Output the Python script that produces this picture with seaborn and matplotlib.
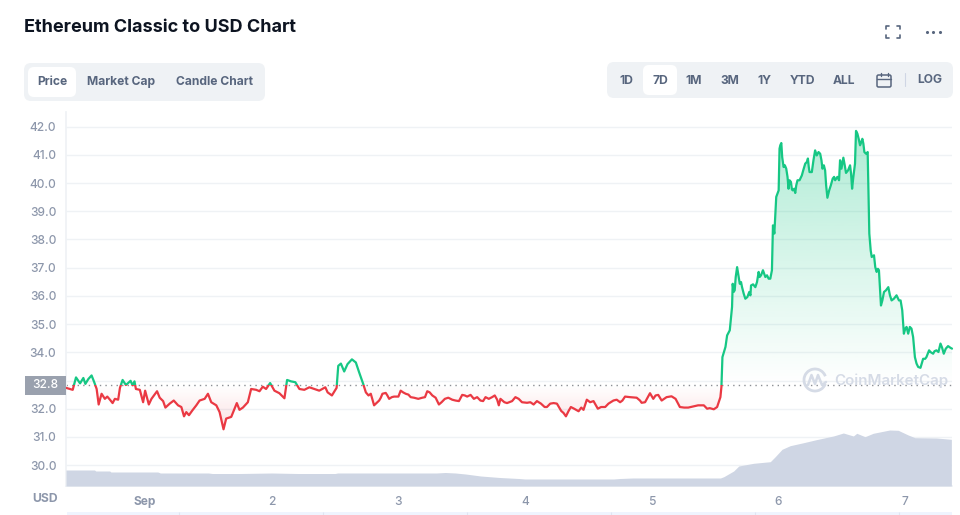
"""Ethereum Classic to USD chart, 7 day view."""
import matplotlib
matplotlib.use("Agg")
import matplotlib.pyplot as plt
from matplotlib.colors import to_rgb
from matplotlib.patches import Arc, FancyBboxPatch, Rectangle
import numpy as np
import pandas as pd
import seaborn as sns

DAYS = [0.375, 0.428, 0.454, 0.486, 0.512, 0.528, 0.551, 0.577, 0.598, 0.617, 0.633, 0.656, 0.682, 0.701,
        0.722, 0.743, 0.761, 0.787, 0.801, 0.822, 0.848, 0.885, 0.900, 0.916, 0.927, 0.958, 0.984, 1.000,
        1.029, 1.050, 1.094, 1.115, 1.142, 1.160, 1.194, 1.226, 1.260, 1.286, 1.307, 1.325, 1.346, 1.373,
        1.404, 1.430, 1.470, 1.496, 1.522, 1.562, 1.588, 1.619, 1.640, 1.680, 1.724, 1.745, 1.772, 1.811,
        1.837, 1.877, 1.903, 1.929, 1.955, 1.987, 2.021, 2.060, 2.100, 2.121, 2.152, 2.186, 2.218, 2.257,
        2.297, 2.336, 2.375, 2.423, 2.441, 2.475, 2.512, 2.525, 2.546, 2.572, 2.598, 2.633, 2.664, 2.690,
        2.722, 2.743, 2.764, 2.782, 2.808, 2.848, 2.874, 2.900, 2.927, 2.966, 3.000, 3.018, 3.058, 3.097,
        3.123, 3.189, 3.228, 3.268, 3.320, 3.367, 3.425, 3.478, 3.504, 3.570, 3.596, 3.648, 3.688, 3.740,
        3.780, 3.793, 3.806, 3.837, 3.898, 3.924, 3.976, 4.016, 4.068, 4.094, 4.155, 4.199, 4.252, 4.286,
        4.323, 4.362, 4.423, 4.462, 4.488, 4.514, 4.541, 4.575, 4.633, 4.659, 4.698, 4.751, 4.790, 4.882,
        4.921, 4.948, 4.987, 5.013, 5.052, 5.079, 5.157, 5.189, 5.223, 5.289, 5.367, 5.412, 5.438, 5.459,
        5.491, 5.517, 5.543, 5.551, 5.559, 5.583, 5.596, 5.617, 5.635, 5.640, 5.656, 5.675, 5.696, 5.714,
        5.740, 5.780, 5.785, 5.819, 5.845, 5.864, 5.879, 5.898, 5.924, 5.950, 5.958, 5.969, 5.984, 6.003,
        6.010, 6.024, 6.042, 6.063, 6.081, 6.100, 6.115, 6.134, 6.152, 6.186, 6.213, 6.234, 6.247, 6.265,
        6.291, 6.331, 6.349, 6.370, 6.388, 6.415, 6.430, 6.449, 6.467, 6.480, 6.488, 6.514, 6.535, 6.567,
        6.583, 6.606, 6.614, 6.635, 6.646, 6.664, 6.680, 6.706, 6.719, 6.738, 6.756, 6.777, 6.795, 6.811,
        6.835, 6.869, 6.895, 6.934, 6.953, 6.979, 6.992, 7.013, 7.026, 7.052, 7.065, 7.079, 7.105, 7.123,
        7.144, 7.170, 7.191, 7.223, 7.249, 7.281, 7.307, 7.341, 7.372]

PRICE = [32.74, 32.67, 33.11, 32.90, 33.09, 32.88, 33.05, 33.18, 32.94, 32.70, 32.15, 32.53, 32.35, 32.43,
         32.32, 32.20, 32.35, 32.32, 32.74, 33.02, 32.84, 32.99, 32.83, 32.97, 32.70, 32.67, 32.23, 32.64,
         32.15, 32.35, 32.62, 32.39, 32.27, 32.04, 32.18, 32.29, 32.12, 32.06, 31.73, 31.88, 31.77, 31.94,
         32.12, 32.29, 32.35, 32.53, 32.23, 32.12, 31.88, 31.27, 31.65, 31.71, 32.20, 31.96, 32.04, 32.23,
         32.70, 32.67, 32.62, 32.78, 32.70, 32.91, 32.64, 32.55, 32.37, 33.02, 32.97, 32.94, 32.70, 32.67,
         32.76, 32.70, 32.64, 32.76, 32.58, 32.47, 32.74, 33.52, 33.60, 33.32, 33.58, 33.75, 33.64, 33.29,
         32.88, 32.58, 32.47, 32.53, 32.12, 32.29, 32.53, 32.56, 32.35, 32.43, 32.43, 32.64, 32.53, 32.41,
         32.39, 32.39, 32.62, 32.47, 32.15, 32.35, 32.32, 32.27, 32.49, 32.49, 32.35, 32.29, 32.41, 32.41,
         32.32, 32.12, 32.35, 32.23, 32.27, 32.41, 32.23, 32.21, 32.15, 32.27, 32.06, 32.18, 32.18, 31.92,
         31.73, 32.06, 31.91, 31.96, 32.32, 32.23, 32.27, 32.00, 32.06, 32.18, 32.29, 32.23, 32.43, 32.39,
         32.21, 32.23, 32.55, 32.35, 32.49, 32.29, 32.44, 32.35, 32.06, 32.04, 32.12, 32.12, 32.00, 32.02,
         31.98, 32.06, 32.41, 32.77, 33.83, 34.19, 34.60, 34.78, 35.61, 36.43, 36.20, 37.02, 36.43, 36.31,
         35.90, 36.02, 36.37, 36.31, 36.85, 36.73, 36.91, 36.67, 36.61, 36.91, 38.50, 38.21, 39.51, 39.74,
         41.22, 41.42, 40.57, 40.51, 39.80, 40.04, 39.74, 39.65, 40.10, 40.27, 40.69, 40.87, 40.39, 40.39,
         41.16, 41.04, 40.51, 40.45, 39.48, 39.92, 40.16, 40.10, 40.22, 40.10, 40.81, 40.90, 40.36, 40.63,
         39.80, 40.69, 41.85, 41.57, 41.34, 41.57, 41.10, 41.10, 38.21, 37.38, 37.44, 36.85, 36.91, 35.66,
         36.14, 36.31, 35.84, 36.02, 35.84, 35.49, 34.66, 34.90, 34.66, 34.84, 34.54, 33.83, 33.48, 33.45,
         33.77, 33.83, 34.07, 33.95, 34.07, 34.31, 33.95, 34.22, 34.13]

# second pass over the picture, the smaller wiggles between the points above
DETAIL_DAYS = [2.822, 2.861, 2.913, 2.948, 3.037, 3.079, 3.157, 3.210, 3.247, 3.294, 3.341, 3.394, 3.451,
               3.525, 3.543, 3.622, 3.669, 3.714, 3.761, 3.858, 3.950, 4.042, 4.126, 4.173, 4.226, 4.304,
               4.344, 4.388, 4.444, 4.601, 4.724, 4.769, 4.829, 4.908, 5.031, 5.118, 5.257, 5.328,
               5.648, 5.664, 5.685, 5.706, 5.727, 5.756, 5.771, 5.801, 5.832, 5.853, 5.911, 5.937,
               6.016, 6.031, 6.052, 6.073, 6.089, 6.108, 6.126, 6.142, 6.168, 6.199, 6.226, 6.241, 6.278,
               6.304, 6.318, 6.341, 6.360, 6.378, 6.402, 6.441, 6.499, 6.525, 6.551, 6.575, 6.593, 6.625,
               6.656, 6.672, 6.693, 6.730, 6.766, 6.787, 6.803, 6.822, 6.851, 6.882, 6.913, 6.966, 7.003,
               7.039, 7.092, 7.160, 7.202, 7.234, 7.265, 7.294, 7.323, 7.360]
DETAIL_PRICE = [32.18, 32.39, 32.47, 32.41, 32.58, 32.50, 32.35, 32.41, 32.58, 32.39, 32.23, 32.39, 32.29,
                32.47, 32.43, 32.41, 32.27, 32.35, 32.47, 32.20, 32.35, 32.23, 32.18, 32.06, 32.20, 31.85,
                31.92, 32.00, 32.04, 32.06, 32.32, 32.29, 32.41, 32.29, 32.47, 32.41, 32.04, 32.08,
                36.14, 36.67, 36.73, 36.49, 36.08, 35.96, 36.14, 36.41, 36.49, 36.67, 36.73, 36.61,
                41.34, 40.92, 40.63, 40.22, 40.10, 39.77, 39.80, 39.92, 40.10, 40.48, 40.75, 40.57, 40.81,
                40.98, 41.10, 40.81, 40.63, 39.92, 39.74, 40.22, 40.51, 40.63, 40.45, 40.33, 40.22, 41.75,
                41.46, 41.40, 41.04, 37.61, 37.02, 36.96, 36.31, 35.84, 36.20, 36.02, 35.90, 35.84, 34.84,
                34.90, 33.60, 33.77, 34.01, 34.04, 34.01, 34.16, 34.13, 34.16]

VOLUME_DAYS = [0.375, 0.60, 0.61, 0.72, 0.73, 1.10, 1.12, 1.50, 1.53, 1.75, 2.00, 2.20, 2.50, 2.52, 3.30,
               3.37, 3.45, 3.53, 3.65, 3.80, 3.95, 4.00, 4.70, 4.75, 4.85, 5.40, 5.543, 5.57, 5.648, 5.688,
               5.806, 5.937, 5.976, 6.03, 6.094, 6.20, 6.30, 6.436, 6.514, 6.593, 6.62, 6.685, 6.75, 6.88,
               6.947, 7.026, 7.079, 7.249, 7.367]
VOLUME = [16, 16, 15, 15, 14, 14, 13, 13, 12.5, 12.5, 13, 12.5, 12.5, 13, 13,
          13.5, 13, 12, 10, 8.5, 7.5, 7, 7, 7.5, 8, 8, 8, 9.3, 15, 20,
          22.7, 24.3, 29.3, 36.7, 40.3, 43.3, 46.3, 50, 53, 50, 52.7, 49.3, 52.7, 56,
          55.7, 51, 48.3, 48, 46.7]

PRICE_TICKS = [30, 31, 32, 33, 34, 35, 36, 37, 38, 39, 40, 41, 42]
PRICE_LABELS = ["30.0", "31.0", "32.0", "", "34.0", "35.0", "36.0", "37.0", "38.0", "39.0", "40.0", "41.0", "42.0"]
DAY_TICKS = [1, 2, 3, 4, 5, 6, 7]
DAY_LABELS = ["Sep", "2", "3", "4", "5", "6", "7"]
OPEN_PRICE = 32.83

LEFT_TABS = ["Price", "Market Cap", "Candle Chart"]
LEFT_TAB_X = [52, 121.5, 214]
RANGE_TABS = ["1D", "7D", "1M", "3M", "1Y", "YTD", "ALL"]
RANGE_TAB_X = [626, 660, 694, 730, 764, 802, 844]
NAVIGATOR_X = [179, 323, 467, 611, 755, 899]

GREEN = "#16c784"
RED = "#ea3943"
GRID = "#eff2f5"
SLATE = "#58667e"
MUTED = "#8d97ab"
FONT = ["Inter", "DejaVu Sans"]

W, H = 960, 515


def gradient(ax, color, v_far, v_base, max_alpha, poly):
    """paint a vertical fade between v_far and v_base, clipped to poly"""
    rgba = np.zeros((256, 1, 4))
    rgba[:, :, :3] = to_rgb(color)
    rgba[:, 0, 3] = np.linspace(max_alpha, 0, 256)
    im = ax.imshow(rgba, aspect="auto", origin="upper", zorder=1.5,
                   extent=(0.375, 7.372, v_base, v_far))
    im.set_clip_path(poly.get_paths()[0], ax.transData)


def round_box(ov, x0, y0, x1, y1, color, radius=7):
    ov.add_patch(FancyBboxPatch((x0 + radius, y0 + radius), x1 - x0 - 2 * radius, y1 - y0 - 2 * radius,
                                boxstyle=f"round,pad={radius},rounding_size={radius}",
                                facecolor=color, edgecolor="none"))


def draw_chrome(ov):
    """title, tab panels and small icons, in pixel coordinates"""
    ov.text(24, 27, "Ethereum Classic to USD Chart", fontsize=13, fontweight="bold",
            color="#0d1421", va="center")
    round_box(ov, 24, 63, 265, 101, GRID)
    round_box(ov, 28, 67, 76, 97, "white", 6)
    for x, label in zip(LEFT_TAB_X, LEFT_TABS):
        ov.text(x, 82, label, fontsize=8.7, fontweight="bold", color=SLATE, ha="center", va="center")
    round_box(ov, 607, 62, 953, 98, GRID)
    round_box(ov, 643, 65, 677, 95, "white", 6)
    for x, label in zip(RANGE_TAB_X, RANGE_TABS):
        ov.text(x, 81, label, fontsize=8.7, fontweight="bold", color=SLATE, ha="center", va="center")
    ov.text(930, 80, "LOG", fontsize=8.7, fontweight="bold", color=SLATE, ha="center", va="center")
    ov.plot([904.5, 904.5], [73, 86], color="#cfd6e4", lw=0.8)
    # calendar
    ov.add_patch(FancyBboxPatch((877, 75), 14, 12, boxstyle="round,pad=0,rounding_size=1.5",
                                facecolor="none", edgecolor=SLATE, lw=1.1))
    ov.plot([877, 891], [79, 79], color=SLATE, lw=1)
    ov.plot([880.5, 880.5], [73, 76], color=SLATE, lw=1)
    ov.plot([887.5, 887.5], [73, 76], color=SLATE, lw=1)
    # fullscreen brackets
    for cx, cy, dx, dy in [(886, 26, 1, 1), (900, 26, -1, 1), (886, 38, 1, -1), (900, 38, -1, -1)]:
        ov.plot([cx + 3 * dx, cx, cx], [cy, cy, cy + 3 * dy], color=SLATE, lw=1.2)
    ov.scatter([926.5, 933, 939.5], [32, 32, 32], s=5, color=SLATE, linewidths=0)
    # price tag on the axis
    ov.add_patch(Rectangle((25, 376), 41, 19, facecolor="#9aa1ae", edgecolor="none"))
    ov.text(45.5, 385.5, "32.8", fontsize=8.6, fontweight="medium", color="white", ha="center", va="center")
    ov.text(45, 499, "USD", fontsize=8.8, fontweight="bold", color=MUTED, ha="center", va="center")
    # navigator strip at the bottom edge
    ov.add_patch(Rectangle((67, 512), 885, 3, facecolor="#eff4fe", edgecolor="none"))
    ov.vlines(NAVIGATOR_X, 512, 515, color="#dfe5f2", lw=0.8)
    # watermark
    ov.add_patch(Arc((815, 380), 22, 22, theta1=20, theta2=340, edgecolor="#d5dbe6", lw=2))
    ov.plot([808, 811.5, 815, 818, 822, 826], [385, 375, 384, 375, 385, 382], color="#d5dbe6", lw=1.8)
    ov.text(834, 381, "CoinMarketCap", fontsize=10.9, fontweight="semibold", color="#d5dbe6", va="center")


def main():
    sns.set_theme(style="white")
    plt.rcParams["font.family"] = FONT
    fig = plt.figure(figsize=(W / 100, H / 100), dpi=100, facecolor="white")
    ax = fig.add_axes([66 / W, 1 - 486 / H, 886 / W, 374 / H])

    data = pd.DataFrame({"day": DAYS + DETAIL_DAYS, "price": PRICE + DETAIL_PRICE}).sort_values("day")
    x_range = (0.375, 7.372)
    ax.set_xlim(x_range)
    ax.set_ylim(29.26, 42.52)

    # line is drawn twice and clipped at the opening price
    for color, y0, y1 in [(GREEN, OPEN_PRICE, 43), (RED, 29, OPEN_PRICE)]:
        before = len(ax.lines)
        sns.lineplot(data=data, x="day", y="price", color=color, lw=1.6, estimator=None, sort=False,
                     ax=ax, zorder=3)
        ax.lines[before].set_clip_path(Rectangle((0, y0), 8, y1 - y0, transform=ax.transData))

    day = data["day"].to_numpy()
    price = data["price"].to_numpy()
    up = ax.fill_between(day, np.maximum(price, OPEN_PRICE), OPEN_PRICE, facecolor="none", lw=0)
    down = ax.fill_between(day, np.minimum(price, OPEN_PRICE), OPEN_PRICE, facecolor="none", lw=0)
    gradient(ax, GREEN, 41.85, OPEN_PRICE, 0.34, up)
    gradient(ax, RED, 31.27, OPEN_PRICE, 0.16, down)
    ax.set_xlim(x_range)
    ax.set_ylim(29.26, 42.52)

    ax.axhline(OPEN_PRICE, color="#8c8f94", lw=1, ls=(0, (1, 3)), zorder=2)
    ax.set_yticks(PRICE_TICKS, PRICE_LABELS)
    ax.set_xticks(DAY_TICKS, DAY_LABELS)
    ax.grid(axis="y", color=GRID, lw=1)
    ax.tick_params(axis="y", length=0, pad=7, labelsize=8.6, labelcolor=MUTED)
    ax.tick_params(axis="x", length=3, width=0.8, color="#cfd6e4", pad=4, labelsize=8.6, labelcolor=MUTED)
    for label in ax.get_xticklabels() + ax.get_yticklabels():
        label.set_fontweight("medium")
    ax.get_xticklabels()[0].set_fontweight("bold")
    ax.set_xlabel("")
    ax.set_ylabel("")
    sns.despine(ax=ax, top=True, right=True)
    for side in ("left", "bottom"):
        ax.spines[side].set_color(GRID)

    # volume sits on its own hidden scale
    vol = ax.twinx()
    vol.set_ylim(0, 374)
    vol.fill_between(VOLUME_DAYS, VOLUME, 0, color="#cfd6e4", lw=0)
    vol.yaxis.set_visible(False)
    for spine in vol.spines.values():
        spine.set_visible(False)

    ov = fig.add_axes([0, 0, 1, 1], zorder=5)
    ov.set_xlim(0, W)
    ov.set_ylim(H, 0)
    ov.axis("off")
    draw_chrome(ov)

    fig.savefig("out.png", dpi=100)


if __name__ == "__main__":
    main()
